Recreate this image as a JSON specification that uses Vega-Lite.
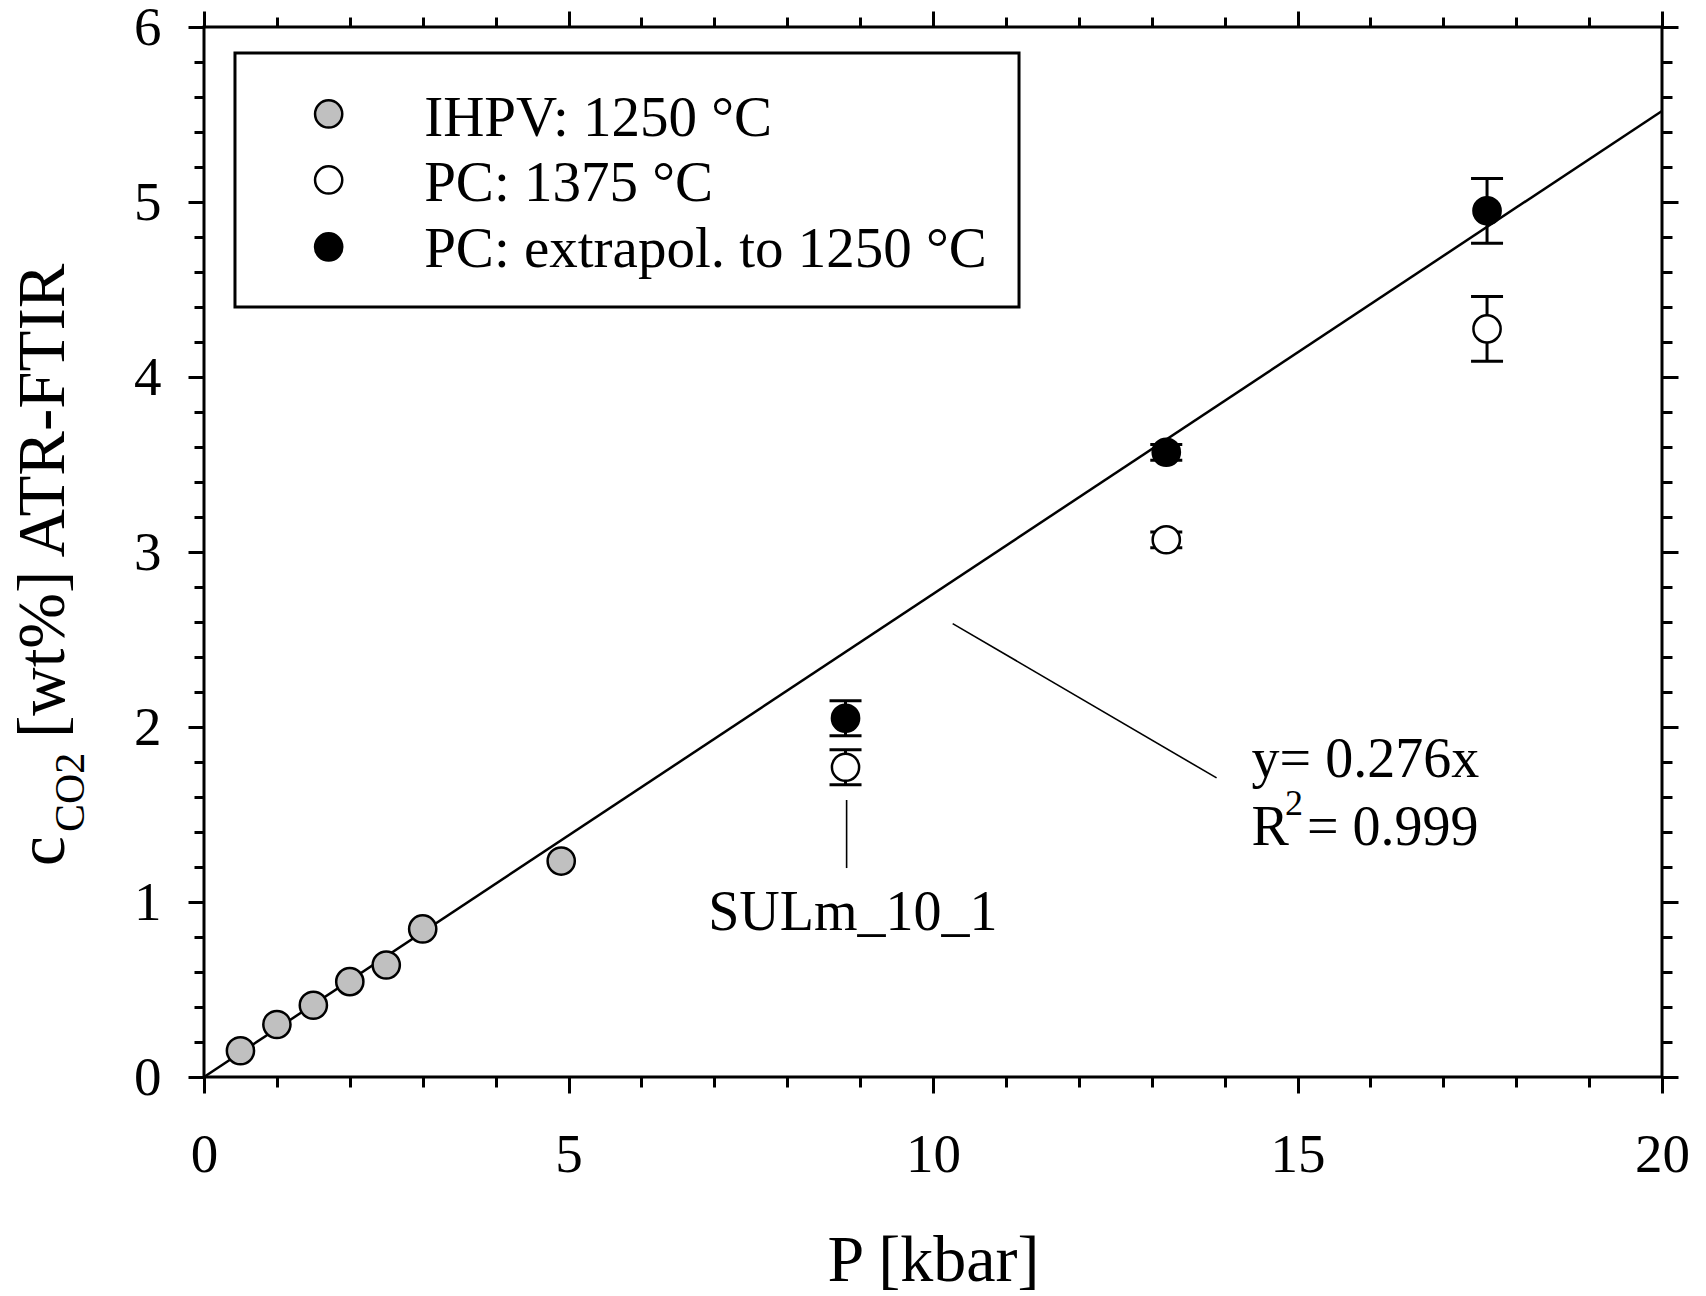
{
  "$schema": "https://vega.github.io/schema/vega-lite/v6.json",
  "width": 1458,
  "height": 1050,
  "autosize": {"type": "none"},
  "padding": {"left": 204, "top": 27, "right": 44, "bottom": 219},
  "background": "white",
  "config": {
    "view": {"stroke": "black", "strokeWidth": 3},
    "font": "Liberation Serif",
    "axis": {
      "domain": false,
      "grid": false,
      "tickColor": "black",
      "tickWidth": 3,
      "labelColor": "black",
      "labelFont": "Liberation Serif",
      "titleFont": "Liberation Serif",
      "titleColor": "black",
      "titleFontWeight": "normal"
    }
  },
  "datasets": {
    "fit": [{"P": 0, "c": 0}, {"P": 20, "c": 5.52}],
    "pts": [
      {"P": 0.5, "c": 0.15, "series": "IHPV: 1250 °C"},
      {"P": 1.0, "c": 0.30, "series": "IHPV: 1250 °C"},
      {"P": 1.5, "c": 0.41, "series": "IHPV: 1250 °C"},
      {"P": 2.0, "c": 0.545, "series": "IHPV: 1250 °C"},
      {"P": 2.5, "c": 0.64, "series": "IHPV: 1250 °C"},
      {"P": 3.0, "c": 0.846, "series": "IHPV: 1250 °C"},
      {"P": 4.9, "c": 1.234, "series": "IHPV: 1250 °C"},
      {"P": 8.8, "c": 1.77, "lo": 1.67, "hi": 1.87, "series": "PC: 1375 °C"},
      {"P": 13.2, "c": 3.07, "lo": 3.025, "hi": 3.115, "series": "PC: 1375 °C"},
      {"P": 17.6, "c": 4.275, "lo": 4.09, "hi": 4.46, "series": "PC: 1375 °C"},
      {"P": 8.8, "c": 2.05, "lo": 1.95, "hi": 2.15, "series": "PC: extrapol. to 1250 °C"},
      {"P": 13.2, "c": 3.57, "lo": 3.525, "hi": 3.615, "series": "PC: extrapol. to 1250 °C"},
      {"P": 17.6, "c": 4.95, "lo": 4.765, "hi": 5.135, "series": "PC: extrapol. to 1250 °C"}
    ],
    "legbox": [{"x1": 0.425, "x2": 11.18, "y1": 4.40, "y2": 5.851}],
    "leg": [
      {"P": 1.71, "c": 5.503, "ty": 5.377, "series": "IHPV: 1250 °C"},
      {"P": 1.71, "c": 5.126, "ty": 5.006, "series": "PC: 1375 °C"},
      {"P": 1.71, "c": 4.743, "ty": 4.631, "series": "PC: extrapol. to 1250 °C"}
    ],
    "lines": [
      {"x1": 10.27, "y1": 2.591, "x2": 13.89, "y2": 1.709},
      {"x1": 8.815, "y1": 1.583, "x2": 8.815, "y2": 1.194}
    ],
    "notes": [
      {"P": 14.37, "c": 1.714, "t": "y= 0.276x", "a": "left"},
      {"P": 14.37, "c": 1.326, "t": "R", "a": "left"},
      {"P": 15.13, "c": 1.326, "t": "= 0.999", "a": "left"},
      {"P": 8.9, "c": 0.84, "t": "SULm_10_1", "a": "center"}
    ],
    "sup": [{"P": 14.83, "c": 1.50, "t": "2"}],
    "ytitle": [
      {"P": -1.92, "c": 1.206, "t": "c"},
      {"P": -1.92, "c": 1.937, "t": "[wt%] ATR-FTIR"}
    ],
    "ysub": [{"P": -1.646, "c": 1.40, "t": "CO2"}]
  },
  "layer": [
    {
      "data": {"name": "fit"},
      "mark": {"type": "line", "color": "black", "strokeWidth": 2.5},
      "encoding": {
        "x": {"field": "P", "type": "quantitative", "scale": {"domain": [0, 20], "nice": false, "zero": false},
          "axis": {"orient": "bottom", "values": [0, 5, 10, 15, 20], "tickSize": 16, "labelFontSize": 55,
            "labelBaseline": "alphabetic", "labelPadding": 78, "labelFlush": false, "labelOverlap": false, "format": "d",
            "title": "P [kbar]", "titleFontSize": 66, "titleY": 203, "titleBaseline": "alphabetic"}},
        "y": {"field": "c", "type": "quantitative", "scale": {"domain": [0, 6], "nice": false, "zero": false},
          "axis": {"orient": "left", "values": [0, 1, 2, 3, 4, 5, 6], "tickSize": 16, "labelFontSize": 55,
            "labelPadding": 27, "labelFlush": false, "labelOverlap": false, "format": "d", "title": null}}
      }
    },
    {
      "data": {"name": "legbox"},
      "mark": {"type": "rect", "fill": "white", "stroke": "black", "strokeWidth": 3},
      "encoding": {
        "x": {"field": "x1", "type": "quantitative",
          "axis": {"orient": "bottom", "values": [0,1,2,3,4,5,6,7,8,9,10,11,12,13,14,15,16,17,18,19,20], "tickSize": 10, "labels": false, "title": null}},
        "x2": {"field": "x2"},
        "y": {"field": "y1", "type": "quantitative",
          "axis": {"orient": "left", "values": [0,0.2,0.4,0.6,0.8,1,1.2,1.4,1.6,1.8,2,2.2,2.4,2.6,2.8,3,3.2,3.4,3.6,3.8,4,4.2,4.4,4.6,4.8,5,5.2,5.4,5.6,5.8,6], "tickSize": 10, "labels": false, "title": null}},
        "y2": {"field": "y2"}
      }
    },
    {
      "data": {"name": "pts"},
      "transform": [{"filter": "isValid(datum.lo)"}],
      "mark": {"type": "rule", "color": "black", "strokeWidth": 3},
      "encoding": {
        "x": {"field": "P", "type": "quantitative",
          "axis": {"orient": "top", "values": [0, 5, 10, 15, 20], "tickSize": 16, "labels": false, "title": null}},
        "y": {"field": "lo", "type": "quantitative",
          "axis": {"orient": "right", "values": [0, 1, 2, 3, 4, 5, 6], "tickSize": 16, "labels": false, "title": null}},
        "y2": {"field": "hi"}
      }
    },
    {
      "data": {"name": "pts"},
      "transform": [{"filter": "isValid(datum.lo)"}, {"fold": ["lo", "hi"], "as": ["end", "cv"]}],
      "mark": {"type": "tick", "orient": "horizontal", "color": "black", "size": 32, "thickness": 3, "opacity": 1},
      "encoding": {
        "x": {"field": "P", "type": "quantitative",
          "axis": {"orient": "top", "values": [0,1,2,3,4,5,6,7,8,9,10,11,12,13,14,15,16,17,18,19,20], "tickSize": 10, "labels": false, "title": null}},
        "y": {"field": "cv", "type": "quantitative",
          "axis": {"orient": "right", "values": [0,0.2,0.4,0.6,0.8,1,1.2,1.4,1.6,1.8,2,2.2,2.4,2.6,2.8,3,3.2,3.4,3.6,3.8,4,4.2,4.4,4.6,4.8,5,5.2,5.4,5.6,5.8,6], "tickSize": 10, "labels": false, "title": null}}
      }
    },
    {
      "data": {"name": "pts"},
      "mark": {"type": "point", "shape": "circle", "filled": false, "size": 740, "stroke": "black", "strokeWidth": 2.5, "opacity": 1},
      "encoding": {
        "x": {"field": "P", "type": "quantitative", "axis": null},
        "y": {"field": "c", "type": "quantitative", "axis": null},
        "fill": {"field": "series", "type": "nominal", "legend": null,
          "scale": {"domain": ["IHPV: 1250 °C", "PC: 1375 °C", "PC: extrapol. to 1250 °C"], "range": ["#c0c0c0", "#ffffff", "#000000"]}}
      }
    },
    {
      "data": {"name": "leg"},
      "mark": {"type": "point", "shape": "circle", "filled": false, "size": 740, "stroke": "black", "strokeWidth": 2.5, "opacity": 1},
      "encoding": {
        "x": {"field": "P", "type": "quantitative", "axis": null},
        "y": {"field": "c", "type": "quantitative", "axis": null},
        "fill": {"field": "series", "type": "nominal", "legend": null}
      }
    },
    {
      "data": {"name": "leg"},
      "mark": {"type": "text", "align": "left", "baseline": "alphabetic", "fontSize": 57, "color": "black", "font": "Liberation Serif"},
      "encoding": {
        "x": {"datum": 3.02, "type": "quantitative", "axis": null},
        "y": {"field": "ty", "type": "quantitative", "axis": null},
        "text": {"field": "series"}
      }
    },
    {
      "data": {"name": "lines"},
      "mark": {"type": "rule", "color": "black", "strokeWidth": 1.6},
      "encoding": {
        "x": {"field": "x1", "type": "quantitative", "axis": null},
        "y": {"field": "y1", "type": "quantitative", "axis": null},
        "x2": {"field": "x2"},
        "y2": {"field": "y2"}
      }
    },
    {
      "data": {"name": "notes"},
      "transform": [{"filter": "datum.a == 'left'"}],
      "mark": {"type": "text", "align": "left", "baseline": "alphabetic", "fontSize": 56, "color": "black", "font": "Liberation Serif"},
      "encoding": {
        "x": {"field": "P", "type": "quantitative", "axis": null},
        "y": {"field": "c", "type": "quantitative", "axis": null},
        "text": {"field": "t"}
      }
    },
    {
      "data": {"name": "sup"},
      "mark": {"type": "text", "align": "left", "baseline": "alphabetic", "fontSize": 36, "color": "black", "font": "Liberation Serif"},
      "encoding": {
        "x": {"field": "P", "type": "quantitative", "axis": null},
        "y": {"field": "c", "type": "quantitative", "axis": null},
        "text": {"field": "t"}
      }
    },
    {
      "data": {"name": "notes"},
      "transform": [{"filter": "datum.a == 'center'"}],
      "mark": {"type": "text", "align": "center", "baseline": "alphabetic", "fontSize": 56, "color": "black", "font": "Liberation Serif"},
      "encoding": {
        "x": {"field": "P", "type": "quantitative", "axis": null},
        "y": {"field": "c", "type": "quantitative", "axis": null},
        "text": {"field": "t"}
      }
    },
    {
      "data": {"name": "ytitle"},
      "mark": {"type": "text", "align": "left", "baseline": "alphabetic", "angle": 270, "fontSize": 67, "color": "black", "font": "Liberation Serif"},
      "encoding": {
        "x": {"field": "P", "type": "quantitative", "axis": null},
        "y": {"field": "c", "type": "quantitative", "axis": null},
        "text": {"field": "t"}
      }
    },
    {
      "data": {"name": "ysub"},
      "mark": {"type": "text", "align": "left", "baseline": "alphabetic", "angle": 270, "fontSize": 42, "color": "black", "font": "Liberation Serif"},
      "encoding": {
        "x": {"field": "P", "type": "quantitative", "axis": null},
        "y": {"field": "c", "type": "quantitative", "axis": null},
        "text": {"field": "t"}
      }
    }
  ],
  "resolve": {"axis": {"x": "independent", "y": "independent"}}
}
